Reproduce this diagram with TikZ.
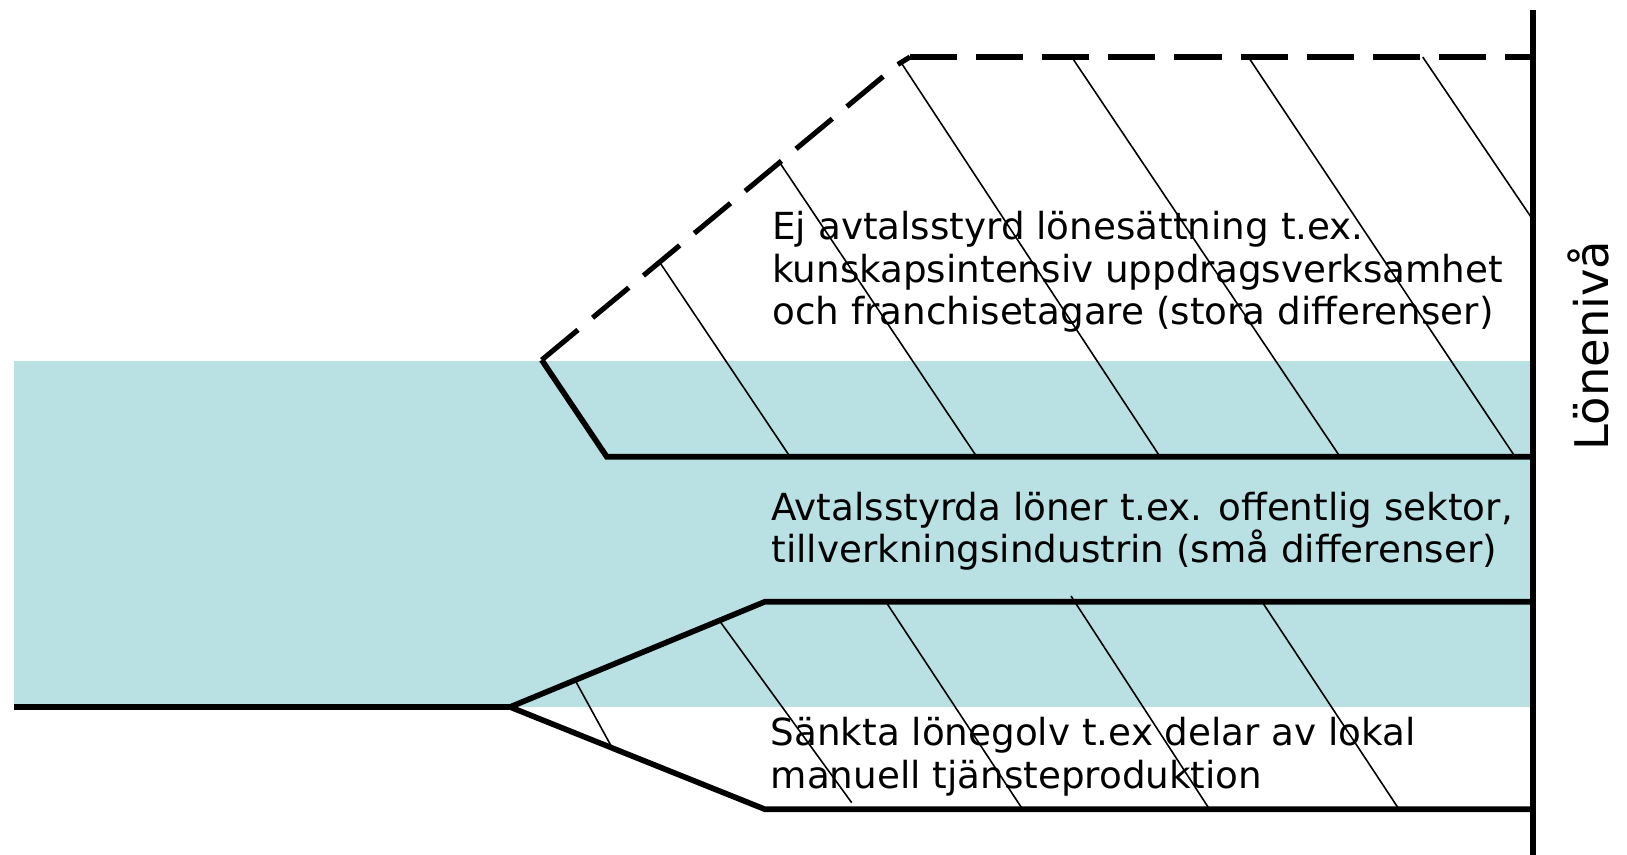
\documentclass[tikz,border=0pt]{standalone}
\usepackage{fontspec}
\setmainfont{DejaVu Sans}
\usepackage{xcolor}
\usepackage{tikz}
\usetikzlibrary{positioning}

\definecolor{bandteal}{HTML}{B9E0E3}

\tikzset{
  thickline/.style={line width=1.6pt, line join=miter},
  dashline/.style={line width=1.45pt, dash pattern=on 13.4pt off 5.4pt},
  hatch/.style={line width=0.45pt},
  label/.style={inner sep=0pt, anchor=base west, align=left,
    font=\fontsize{10.6}{12.2}\selectfont}
}

\begin{document}
\begin{tikzpicture}[x=0.01cm, y=-0.01cm]

\useasboundingbox (0,0) rectangle (1627,855);

% band
\fill[bandteal] (14,361) rectangle (1533,707);

% upper part
\draw[dashline] (541.7,360) -- (897,65) -- (910,57);
\draw[dashline] (910,57) -- (1533,57);
\draw[thickline] (541.7,360) -- (606.7,456.7) -- (1533,456.7);

   \draw[hatch] (659.5,262) -- (790,456.7);
   \draw[hatch] (780,163) -- (976.7,456.7);
   \draw[hatch] (902,64) -- (1160,456.7);
   \draw[hatch] (1071.7,57) -- (1340,456.7);
   \draw[hatch] (1248.3,57) -- (1515,456.7);
   \draw[hatch] (1422.7,57) -- (1533,220);

% lower part
\draw[thickline] (14,707) -- (510,707) -- (765,601.7) -- (1533,601.7);
\draw[thickline] (510,707) -- (765,809.3) -- (1533,809.3);

   \draw[hatch] (575,680) -- (611.7,747);
   \draw[hatch] (719.3,620.5) -- (851.7,802.7);
   \draw[hatch] (885.8,601.7) -- (1022.6,809.3);
   \draw[hatch] (1071,596) -- (1209.5,809.3);
   \draw[hatch] (1262,601.7) -- (1399,809.3);

% axis
\draw[line width=1.75pt] (1533,10) -- (1533,855);

% base of each text is its last line
\node[label] (ejavtal) at (771.7,325) {Ej avtalsstyrd lönesättning t.ex.\\kunskapsintensiv uppdragsverksamhet\\och franchisetagare (stora differenser)};
\node[label] (avtal) at (770.7,563) {Avtalsstyrda löner t.ex. offentlig sektor,\\tillverkningsindustrin (små differenser)};
\node[label] (golv) at (770,788) {Sänkta lönegolv t.ex delar av lokal\\manuell tjänsteproduktion};

\node[inner sep=0pt, anchor=base, rotate=90, font=\fontsize{13.2}{15}\selectfont] (nivaa) at (1608,345.5) {Lönenivå};

\end{tikzpicture}
\end{document}
